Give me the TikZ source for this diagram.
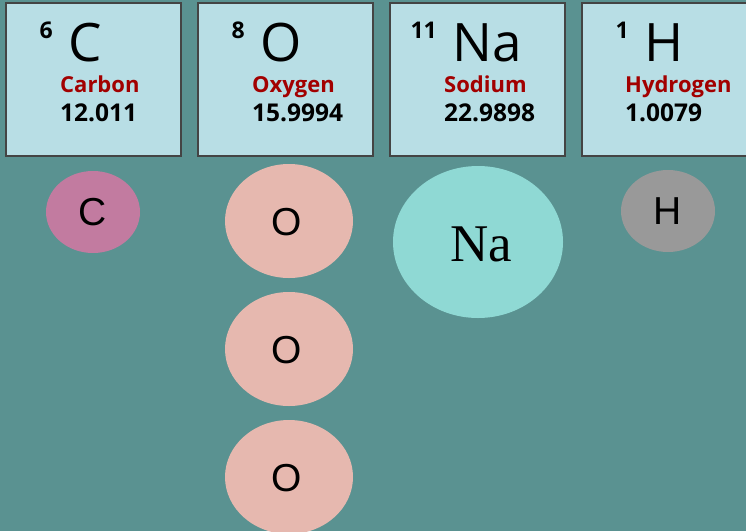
\documentclass[tikz,border=0pt]{standalone}
\usepackage{fontspec}
\setmainfont{Open Sans}
\newfontfamily\arialf{Liberation Sans}
\newfontfamily\timesf{Liberation Serif}
\usetikzlibrary{shapes.geometric}
\definecolor{bgc}{HTML}{5A9291}
\definecolor{boxfill}{HTML}{B8DEE5}
\definecolor{boxline}{HTML}{444444}
\definecolor{namered}{HTML}{A20000}
\definecolor{cpink}{HTML}{C27BA0}
\definecolor{opink}{HTML}{E6B8AF}
\definecolor{nacyan}{HTML}{8FD9D4}
\definecolor{hgray}{HTML}{999999}
\tikzset{
  elbox/.style={draw=boxline, line width=1.5pt, fill=boxfill, minimum width=175pt, minimum height=153pt, inner sep=0pt},
  supnum/.style={font=\fontsize{23}{23}\selectfont\bfseries, anchor=base east, inner sep=0pt},
  bigsym/.style={font=\fontsize{53}{53}\selectfont, anchor=base west, inner sep=0pt},
  elname/.style={font=\fontsize{22}{22}\selectfont\bfseries, text=namered, anchor=base west, inner sep=0pt},
  elmass/.style={font=\fontsize{24.5}{24.5}\selectfont\bfseries, anchor=base west, inner sep=0pt},
  atom/.style={ellipse, inner sep=0pt},
  atomtxt/.style={font=\arialf\fontsize{39}{39}\selectfont},
}
\begin{document}
\begin{tikzpicture}[x=1pt,y=-1pt]
\useasboundingbox (0,0) rectangle (746,531);
\clip (0,0) rectangle (746,531);
\fill[bgc] (0,0) rectangle (746,531);
% boxes
\foreach \nm/\bx/\tx/\num/\sym/\name/\mass in {bC/6/54/6/C/Carbon/12.011, bO/198/54/8/O/Oxygen/15.9994, bNa/390/54/11/Na/Sodium/22.9898, bH/582/43/1/H/Hydrogen/1.0079}{
  \node[elbox] (\nm) at (\bx+87.5,79.5) {};
  \node[supnum] (\nm-num) at (\bx+47,38) {\num};
  \node[bigsym] (\nm-sym) at (\bx+62,61) {\sym};
  \node[elname] (\nm-name) at (\bx+\tx,92) {\name};
  \node[elmass] (\nm-mass) at (\bx+\tx,121) {\mass};
}
% atoms
\node[atom, fill=cpink, minimum width=94pt, minimum height=82pt] (aC) at (93,212) {};
\node[atomtxt] at (aC) {C};
\node[atom, fill=opink, minimum width=128pt, minimum height=114pt] (aO1) at (289,221) {};
\node[atomtxt] at (287,222) {O};
\node[atom, fill=opink, minimum width=128pt, minimum height=114pt] (aO2) at (289,349) {};
\node[atomtxt] at (287,350) {O};
\node[atom, fill=opink, minimum width=128pt, minimum height=114pt] (aO3) at (289,477) {};
\node[atomtxt] at (287,478) {O};
\node[atom, fill=nacyan, minimum width=170pt, minimum height=152pt] (aNa) at (478,242) {};
\node[font=\timesf\fontsize{53}{53}\selectfont] at (481,244) {Na};
\node[atom, fill=hgray, minimum width=94pt, minimum height=82pt] (aH) at (668,211) {};
\node[atomtxt] at (aH) {H};
\end{tikzpicture}
\end{document}
